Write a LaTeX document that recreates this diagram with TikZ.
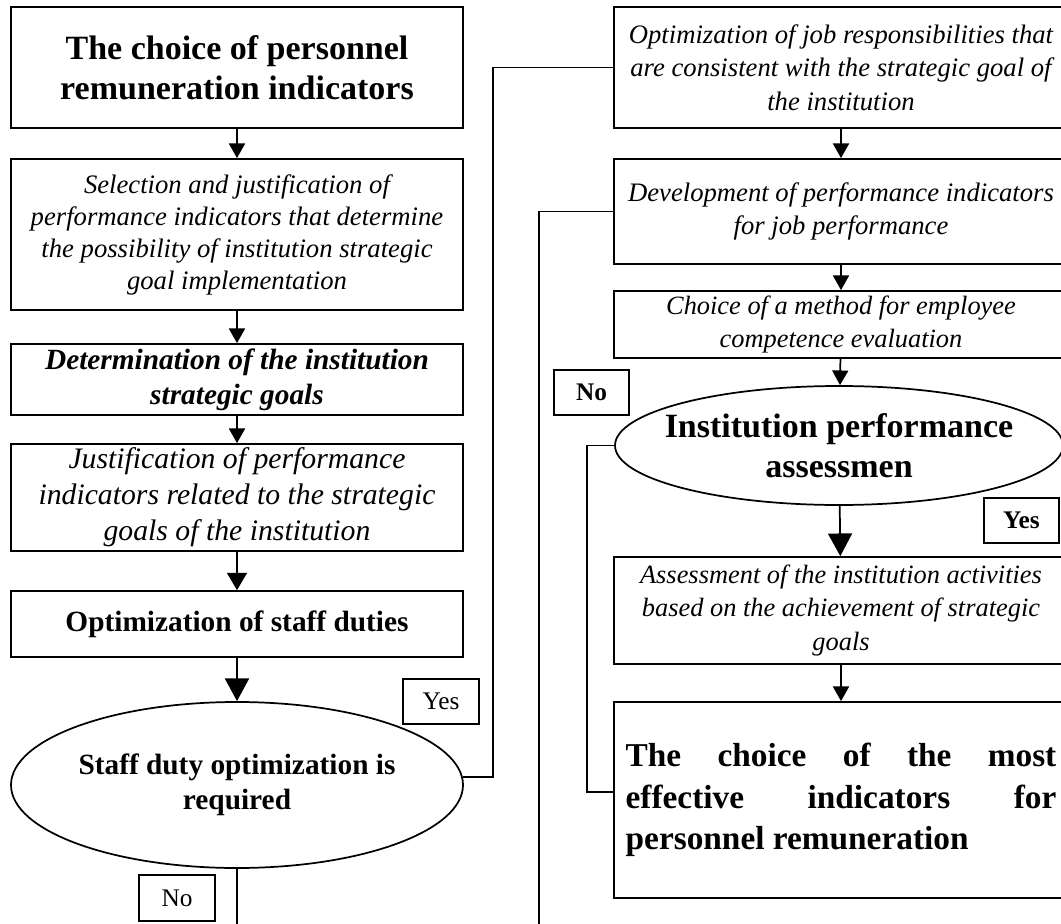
\documentclass[tikz,border=0pt]{standalone}
\usepackage{fontspec}
\setmainfont{Liberation Serif}
\usetikzlibrary{shapes.geometric, arrows.meta}

\newcommand{\fsz}[2]{\fontsize{#1}{#2}\selectfont}

\tikzset{
  blk/.style={rectangle, draw, line width=1.3pt, align=center, inner sep=0pt},
  oval/.style={ellipse, draw, line width=1.3pt, inner sep=0pt},
  tag/.style={rectangle, draw, line width=1.3pt, inner sep=0pt},
  wire/.style={line width=1.3pt},
  arr/.style={wire, -{Triangle[width=12pt,length=11pt]}},
  arrmid/.style={wire, -{Triangle[width=15pt,length=13pt]}},
  arrbig/.style={wire, -{Triangle[width=18pt,length=17pt]}}
}

\begin{document}
\begin{tikzpicture}[x=0.75pt, y=-0.75pt]

\useasboundingbox (0,0) rectangle (1061,924);

%Left column
\node (B1) at (237,67.5) [blk, minimum width=339pt, minimum height=90.75pt, font=\bfseries\fsz{25.5}{30}] {The choice of personnel\\remuneration indicators};
\node (B2) at (237,234.5) [blk, minimum width=339pt, minimum height=113.25pt, font=\itshape\fsz{20}{24}] {Selection and justification of\\performance indicators that determine\\the possibility of institution strategic\\goal implementation};
\node (B3) at (237,379.5) [blk, minimum width=339pt, minimum height=53.25pt, font=\bfseries\itshape\fsz{22}{26}] {Determination of the institution\\strategic goals};
\node (B4) at (237,497.5) [blk, minimum width=339pt, minimum height=80.25pt, font=\itshape\fsz{22.3}{27}] {Justification of performance\\indicators related to the strategic\\goals of the institution};
\node (B5) at (237,624) [blk, minimum width=339pt, minimum height=49.5pt, font=\bfseries\fsz{22}{26}] {Optimization of staff duties};

\node (E1) at (237,785) [oval, minimum width=339pt, minimum height=124.5pt] {};
\node (E1t) at (E1) [align=center, font=\bfseries\fsz{22}{26}] {Staff duty optimization is\\required};

\node (Y1) at (441,701.5) [tag, minimum width=57pt, minimum height=33.75pt, font=\fsz{19}{22}] {Yes};
\node (N1) at (177,898) [tag, minimum width=57pt, minimum height=34.5pt, font=\fsz{19}{22}] {No};

\draw[arr] (B1) -- (B2);
\draw[arr] (B2) -- (B3);
\draw[arr] (B3) -- (B4);
\draw[arrmid] (B4) -- (B5);
\draw[arrbig] (B5) -- (E1);

%Right column
\node (R1) at (841,67.5) [blk, minimum width=340.5pt, minimum height=90.75pt, font=\itshape\fsz{20}{25}] {Optimization of job responsibilities that\\are consistent with the strategic goal of\\the institution};
\node (R2) at (841,211.5) [blk, minimum width=340.5pt, minimum height=78.75pt, font=\itshape\fsz{20}{25}] {Development of performance indicators\\for job performance};
\node (R3) at (841,324.5) [blk, minimum width=340.5pt, minimum height=50.25pt, font=\itshape\fsz{19.8}{25}] {Choice of a method for employee\\competence evaluation};

\node (E2) at (839,445.5) [oval, minimum width=336pt, minimum height=89.25pt] {};
\node (E2t) at (E2) [align=center, font=\bfseries\fsz{25.5}{30}] {Institution performance\\assessmen};

\node (N2) at (591.5,392.5) [tag, minimum width=56.25pt, minimum height=33.75pt, font=\bfseries\fsz{19}{22}] {No};
\node (Y2) at (1021.5,520.5) [tag, minimum width=56.25pt, minimum height=33.75pt, font=\bfseries\fsz{19}{22}] {Yes};

\node (R4) at (841,610.5) [blk, minimum width=340.5pt, minimum height=80.25pt, font=\itshape\fsz{19.8}{25}] {Assessment of the institution activities\\based on the achievement of strategic\\goals};
\node (R5) at (841,800) [blk, minimum width=340.5pt, minimum height=147pt, text width=323pt, align=justify, font=\bfseries\fsz{25}{31}] {The choice of the most\linebreak effective indicators for\linebreak personnel remuneration};

\draw[arr] (R1) -- (R2);
\draw[arr] (R2) -- (R3);
\draw[arr] (R3) -- (E2);
\draw[arrbig] (E2) -- (R4);
\draw[arr] (R4) -- (R5);

%Feedback lines
\coordinate (busY) at (493,0);
\coordinate (busN) at (539,924);
\coordinate (busM) at (587,792);
\coordinate (endL) at (237,924);

\draw[wire] (E1.2) -| (busY |- R1.west) -- (R1.west);
\draw[wire] (R2.west) -| (busN);
\draw[wire] (E2.west) -| (busM) -- (busM -| R5.west);
\draw[wire] (E1.south) -- (endL);

\end{tikzpicture}
\end{document}
